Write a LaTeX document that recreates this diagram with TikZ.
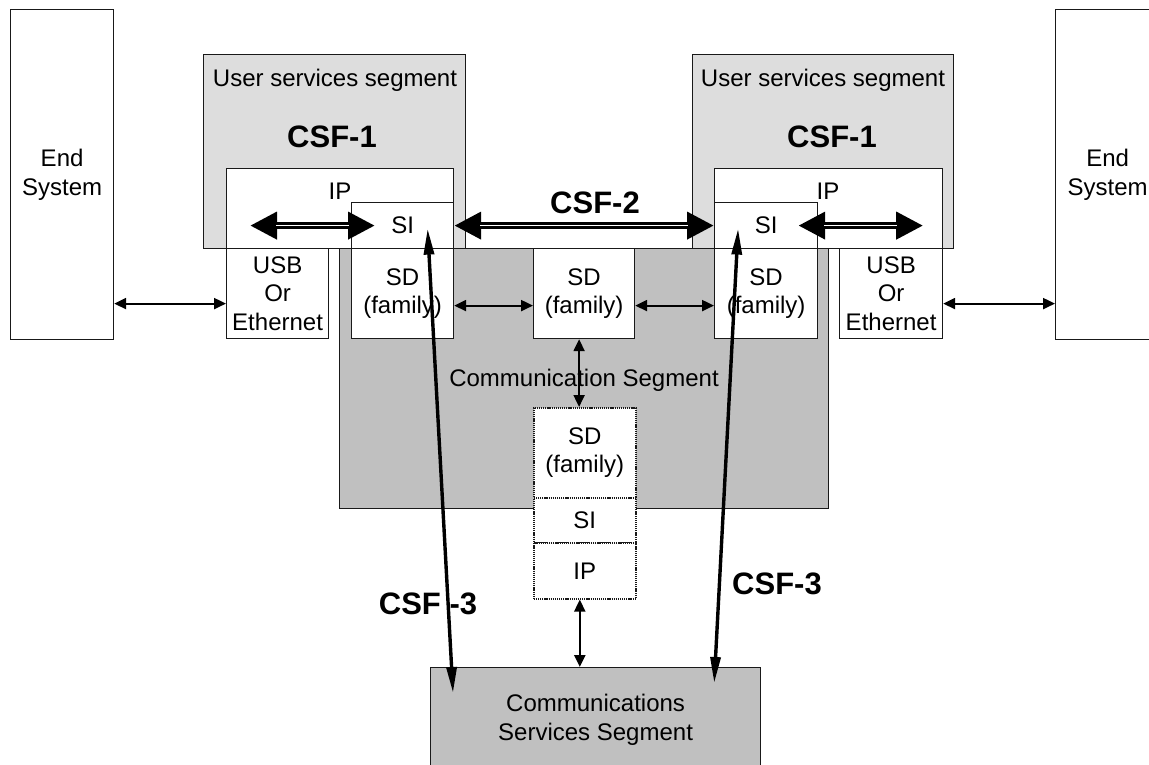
\documentclass[tikz,border=0pt]{standalone}
\usepackage{fontspec}
\setmainfont{Liberation Sans}
\usetikzlibrary{arrows.meta}
\definecolor{userseg}{HTML}{DDDDDD}
\definecolor{commseg}{HTML}{C0C0C0}
\begin{document}
\begin{tikzpicture}[x=1pt,y=-1pt,
  box/.style={draw=black!90, line width=1.2pt, fill=white, inner sep=0pt,
    anchor=north west, align=center, font=\fontsize{24}{28.5}\selectfont},
  dotbox/.style={box, dash pattern=on 1.2pt off 0.9pt, line width=1.6pt},
  lbl/.style={inner sep=0pt, align=center, font=\fontsize{24}{28.5}\selectfont},
  blbl/.style={inner sep=0pt, font=\fontsize{31}{35}\selectfont\bfseries},
  thinarrow/.style={line width=2.2pt, {Triangle[length=12pt,width=11pt]}-{Triangle[length=12pt,width=11pt]}},
  thickarrow/.style={line width=7pt, {Triangle[length=27pt,width=26pt]}-{Triangle[length=27pt,width=26pt]}},
  thickinner/.style={white, line width=1.5pt, shorten <=26pt, shorten >=26pt},
  csfarrow/.style={line width=3.4pt, {Triangle[length=26pt,width=10pt]}-{Triangle[length=26pt,width=10pt]}}
]
\useasboundingbox (0,0) rectangle (1149,765);

% end systems
\node[box, minimum width=103pt, minimum height=330pt] (es1) at (10,9) {End\\System};
\node[box, minimum width=104pt, minimum height=330pt] (es2) at (1055,9) {End\\System};

% segments
\node[box, fill=userseg, minimum width=262pt, minimum height=194pt] (us1) at (203,54) {};
\node[box, fill=userseg, minimum width=261pt, minimum height=194pt] (us2) at (692,54) {};
\node[box, fill=commseg, minimum width=489pt, minimum height=260pt] (cs) at (339,248) {};
\node[box, fill=commseg, minimum width=330pt, minimum height=104pt] (css) at (430,667) {Communications\\Services Segment};

% left stack
\node[box, minimum width=227pt, minimum height=80pt] (ip1) at (226,168) {};
\node[box, minimum width=102pt, minimum height=46pt] (si1) at (351,202) {SI};
\node[box, minimum width=102pt, minimum height=90pt] (sd1) at (351,248) {SD\\(family)};
\node[box, minimum width=102pt, minimum height=90pt] (usb1) at (226,248) {USB\\Or\\Ethernet};

% right stack
\node[box, minimum width=228pt, minimum height=80pt] (ip2) at (714,168) {};
\node[box, minimum width=103pt, minimum height=46pt] (si2) at (714,202) {SI};
\node[box, minimum width=103pt, minimum height=90pt] (sd2) at (714,248) {SD\\(family)};
\node[box, minimum width=103pt, minimum height=90pt] (usb2) at (839,248) {USB\\Or\\Ethernet};

% middle
\node[box, minimum width=101pt, minimum height=90pt] (sdm) at (533,248) {SD\\(family)};
\node[dotbox, minimum width=102pt, minimum height=90pt] (sdd) at (533,407) {SD\\(family)};
\node[dotbox, minimum width=102pt, minimum height=45pt] (sid) at (533,497) {SI};
\node[dotbox, minimum width=102pt, minimum height=56pt] (ipd) at (533,542) {IP};

% labels
\node[lbl] (ust1) at (335,80) {User services segment};
\node[lbl] (ust2) at (823,80) {User services segment};
\node[blbl] (csf1a) at (332,137) {CSF-1};
\node[blbl] (csf1b) at (832,137) {CSF-1};
\node[lbl] (ipt1) at (340,191) {IP};
\node[lbl] (ipt2) at (828,191) {IP};
\node[blbl] (csf2) at (595,203) {CSF-2};
\node[lbl] (cst) at (584,380) {Communication Segment};
\node[blbl] (csf3a) at (428,604) {CSF -3};
\node[blbl] (csf3b) at (777,584) {CSF-3};

% thin arrows
\coordinate (a1) at ([yshift=-10pt]usb1.west);
\draw[thinarrow] (a1 -| es1.east) -- (a1);
\coordinate (a2) at ([yshift=-12pt]sd1.east);
\draw[thinarrow] (a2) -- (a2 -| sdm.west);
\draw[thinarrow] (a2 -| sdm.east) -- (a2 -| sd2.west);
\coordinate (a3) at ([yshift=-10pt]usb2.east);
\draw[thinarrow] (a3) -- (a3 -| es2.west);
\coordinate (v1) at ([xshift=-5pt]sdm.south);
\draw[thinarrow] (v1) -- (v1 |- sdd.north);
\coordinate (v2) at ([xshift=-5pt]ipd.south);
\draw[thinarrow] (v2) -- (v2 |- css.north);

% thick arrows
\coordinate (t1a) at ([xshift=24pt]ip1.west |- si1.center);
\coordinate (t1b) at ([xshift=24pt]si1.west);
\draw[thickarrow] (t1a) -- (t1b);
\draw[thickinner] (t1a) -- (t1b);
\draw[thickarrow] (si1.east) -- (si2.west);
\draw[thickinner] (si1.east) -- (si2.west);
\coordinate (t2a) at ([xshift=-20pt]si2.east);
\coordinate (t2b) at ([xshift=-20pt]ip2.east |- si2.center);
\draw[thickarrow] (t2a) -- (t2b);
\draw[thickinner] (t2a) -- (t2b);

% CSF-3 arrows
\coordinate (c1a) at ([xshift=25pt,yshift=-3pt]si1.center);
\coordinate (c1b) at ([xshift=23pt,yshift=-26pt]css.north west);
\draw[csfarrow] (c1a) -- (c1b);
\coordinate (c2a) at ([xshift=-28pt,yshift=-3pt]si2.center);
\coordinate (c2b) at ([xshift=-47pt,yshift=-16pt]css.north east);
\draw[csfarrow] (c2a) -- (c2b);
\end{tikzpicture}
\end{document}
